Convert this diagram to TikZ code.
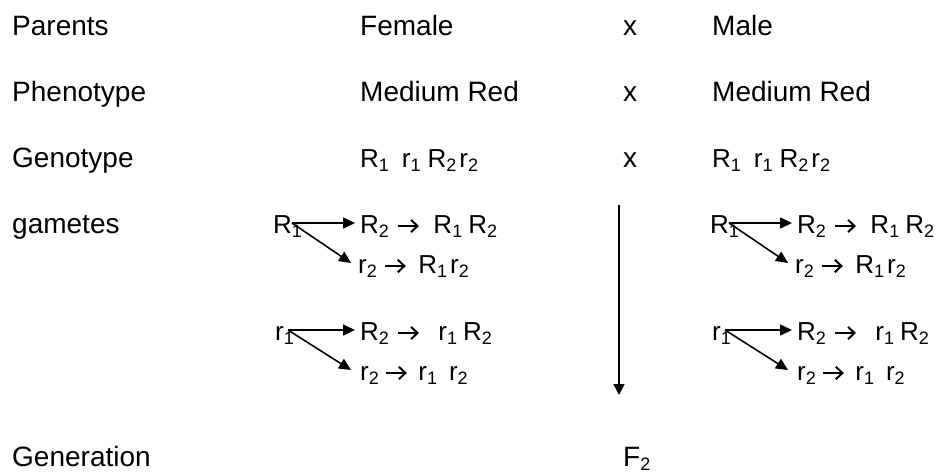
\documentclass[tikz,border=0pt]{standalone}
\usepackage{fontspec}
\setmainfont{Liberation Sans}
\usetikzlibrary{arrows.meta}
\newcommand\lo[1]{\raisebox{-4pt}{\fontsize{18}{18}\selectfont #1}}
\newcommand\hs[1]{\hspace*{#1pt}}
\newsavebox\arrbox
\newcommand\ta{\usebox\arrbox}
\tikzset{
  big/.style={font=\fontsize{28}{30}\selectfont, inner sep=0pt, anchor=base west},
  bigc/.style={font=\fontsize{28}{30}\selectfont, inner sep=0pt, anchor=base},
  small/.style={font=\fontsize{26}{28}\selectfont, inner sep=0pt, anchor=base west},
  arr/.style={line width=1.6pt, -{Triangle[length=12pt,width=11pt]}},
}
\newcommand\gameteblock[2]{%
  \begin{scope}[xshift=#2pt]
    \node[small] (#1A) at (273,233) {R\lo{1}};
    \coordinate (#1As) at (292,223);
    \node[small] (#1AR) at (360,233) {R\lo{2}\hs{9}\ta\hs{15}R\lo{1}\hs{6}R\lo{2}};
    \node[small] (#1Ar) at (358,273) {r\lo{2}\hs{8}\ta\hs{13}R\lo{1}\hs{3}r\lo{2}};
    \coordinate (#1At1) at (355,223);
    \coordinate (#1At2) at (351,263);
    \draw[arr] (#1As) -- (#1At1);
    \draw[arr] (#1As) -- (#1At2);
    \node[small] (#1B) at (275,340) {r\lo{1}};
    \coordinate (#1Bs) at (288,330);
    \node[small] (#1BR) at (360,340) {R\lo{2}\hs{9}\ta\hs{20}r\lo{1}\hs{6}R\lo{2}};
    \node[small] (#1Br) at (360,380) {r\lo{2}\hs{7}\ta\hs{12}r\lo{1}\hs{12}r\lo{2}};
    \coordinate (#1Bt1) at (355,330);
    \coordinate (#1Bt2) at (351,370);
    \draw[arr] (#1Bs) -- (#1Bt1);
    \draw[arr] (#1Bs) -- (#1Bt2);
  \end{scope}}
\begin{document}
\sbox\arrbox{\begin{pgfpicture}
  \pgfpathrectangle{\pgfpointorigin}{\pgfpoint{20.5pt}{14pt}}
  \pgfusepath{use as bounding box}
  \pgfsetlinewidth{2pt}
  \pgfpathmoveto{\pgfpoint{0pt}{7pt}}
  \pgfpathlineto{\pgfpoint{19pt}{7pt}}
  \pgfusepath{stroke}
  \pgfsetmiterjoin
  \pgfpathmoveto{\pgfpoint{13pt}{0.8pt}}
  \pgfpathlineto{\pgfpoint{19.5pt}{7pt}}
  \pgfpathlineto{\pgfpoint{13pt}{13.2pt}}
  \pgfusepath{stroke}
  \pgfsetbaseline{0pt}
\end{pgfpicture}}%
\begin{tikzpicture}[x=1pt,y=-1pt]
  \useasboundingbox (0,0) rectangle (950,475);
  % row 1
  \node[big] (parents) at (12,35) {Parents};
  \node[big] (female) at (360,35) {Female};
  \node[bigc] (x1) at (630,35) {x};
  \node[big] (male) at (712,35) {Male};
  % row 2
  \node[big] (pheno) at (12,101) {Phenotype};
  \node[big] (mr1) at (360,101) {Medium Red};
  \node[bigc] (x2) at (630,101) {x};
  \node[big] (mr2) at (712,101) {Medium Red};
  % row 3
  \node[big] (geno) at (12,167) {Genotype};
  \node[small] (g1) at (360,167) {R\lo{1}\hs{13}r\lo{1}\hs{7}R\lo{2}\hs{3}r\lo{2}};
  \node[bigc] (x3) at (630,167) {x};
  \node[small] (g2) at (712,167) {R\lo{1}\hs{13}r\lo{1}\hs{7}R\lo{2}\hs{3}r\lo{2}};
  % gametes
  \node[big] (gam) at (12,233) {gametes};
  \gameteblock{L}{0}
  \gameteblock{R}{437}
  % vertical arrow
  \coordinate (vtop) at (619,205);
  \coordinate (vbot) at (619,395);
  \draw[line width=1.5pt, -{Triangle[length=11pt,width=11pt]}] (vtop) -- (vbot);
  % generation
  \node[big] (gen) at (12,466) {Generation};
  \node[big] (f2) at (623,466) {F\lo{2}};
\end{tikzpicture}
\end{document}
